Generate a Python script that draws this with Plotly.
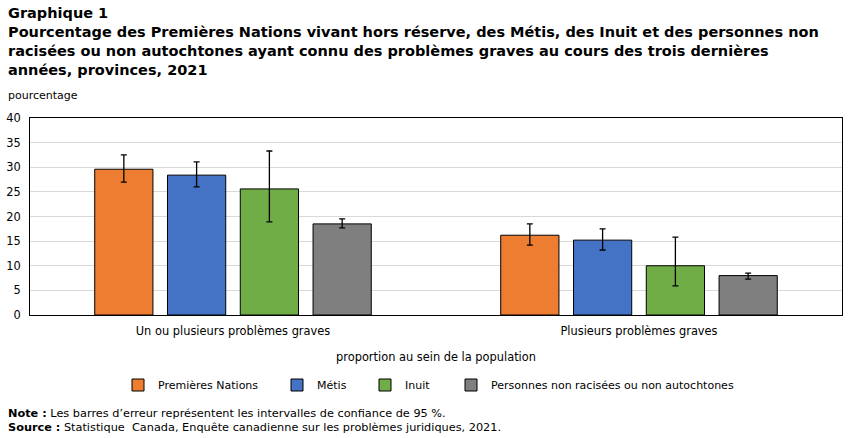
import plotly.graph_objects as go

categories = ["Un ou plusieurs problèmes graves", "Plusieurs problèmes graves"]
series_names = ["Premières Nations", "Métis", "Inuit", "Personnes non racisées ou non autochtones"]
colors = ["#ED7D31", "#4472C4", "#70AD47", "#7F7F7F"]
values = {
    "Premières Nations": [29.6, 16.2],
    "Métis": [28.4, 15.2],
    "Inuit": [25.6, 10.0],
    "Personnes non racisées ou non autochtones": [18.5, 8.0],
}
ci_low = {
    "Premières Nations": [27.0, 14.2],
    "Métis": [26.0, 13.2],
    "Inuit": [18.9, 5.9],
    "Personnes non racisées ou non autochtones": [17.7, 7.3],
}
ci_high = {
    "Premières Nations": [32.5, 18.5],
    "Métis": [31.1, 17.5],
    "Inuit": [33.3, 15.8],
    "Personnes non racisées ou non autochtones": [19.5, 8.5],
}
y_ticks = [0, 5, 10, 15, 20, 25, 30, 35, 40]

W, H = 850, 438
L, R, T, B = 30, 8, 118, 123
PW = W - L - R
PH = H - T - B

def px(x):
    return (x - L) / PW

def py(y):
    return (H - B - y) / PH

FONT = "Verdana, DejaVu Sans, sans-serif"

fig = go.Figure()
legend_text_x = [154, 313, 401, 487]
for i, name in enumerate(series_names):
    v = values[name]
    plus = [h - a for h, a in zip(ci_high[name], v)]
    minus = [a - l for a, l in zip(v, ci_low[name])]
    lg = "legend" if i == 0 else f"legend{i+1}"
    fig.add_trace(go.Bar(
        x=categories, y=v, name=name, legend=lg,
        marker=dict(color=colors[i], line=dict(color="#000000", width=1)),
        error_y=dict(type="data", array=plus, arrayminus=minus, visible=True,
                     color="#000000", thickness=1.3, width=3),
    ))

legend_common = dict(orientation="h", xref="container", yref="container",
                     xanchor="left", yanchor="middle",
                     font=dict(family=FONT, size=11, color="#000000"),
                     bgcolor="rgba(0,0,0,0)")
legends = {}
for i in range(4):
    key = "legend" if i == 0 else f"legend{i+1}"
    legends[key] = dict(x=(legend_text_x[i] - 36) / W, y=1 - 385 / H, **legend_common)

fig.update_layout(
    width=W, height=H,
    margin=dict(l=L, r=R, t=T, b=B, autoexpand=False),
    paper_bgcolor="white", plot_bgcolor="white",
    barmode="group", bargap=0.283, bargroupgap=0.2,
    showlegend=True,
    font=dict(family=FONT, size=11, color="#000000"),
    title=dict(
        text="Graphique 1<br>Pourcentage des Premières Nations vivant hors réserve, des Métis, des Inuit et des personnes non<br>racisées ou non autochtones ayant connu des problèmes graves au cours des trois dernières<br>années, provinces, 2021",
        xref="container", yref="container", x=8 / W, xanchor="left",
        y=1 - 18 / H, yanchor="top",
        font=dict(family=FONT, size=14.5, color="#000000", weight="bold"),
    ),
    xaxis=dict(
        showline=True, linecolor="#000000", linewidth=1, mirror=True,
        ticks="", showgrid=False, ticklabelstandoff=5,
        tickfont=dict(family=FONT, size=11.4, color="#000000"),
        title=dict(text="proportion au sein de la population", standoff=16,
                   font=dict(family=FONT, size=11.4, color="#000000")),
    ),
    yaxis=dict(
        range=[0, 40], tickvals=y_ticks, showline=True, linecolor="#000000",
        linewidth=1, mirror=True, ticks="", showgrid=True, gridcolor="#D9D9D9",
        gridwidth=1, zeroline=False, ticklabelstandoff=6,
        tickfont=dict(family=FONT, size=11.4, color="#000000"),
    ),
    annotations=[
        dict(text="pourcentage", xref="paper", yref="paper", x=px(6), y=py(95),
             xanchor="left", yanchor="middle", showarrow=False,
             font=dict(family=FONT, size=11, color="#000000")),
        dict(text="<b>Note :</b> Les barres d’erreur représentent les intervalles de confiance de 95 %.",
             xref="paper", yref="paper", x=px(6), y=py(413),
             xanchor="left", yanchor="middle", showarrow=False,
             font=dict(family=FONT, size=11.3, color="#000000")),
        dict(text="<b>Source :</b> Statistique  Canada, Enquête canadienne sur les problèmes juridiques, 2021.",
             xref="paper", yref="paper", x=px(6), y=py(427),
             xanchor="left", yanchor="middle", showarrow=False,
             font=dict(family=FONT, size=11.3, color="#000000")),
    ],
    **legends,
)

fig.write_html("out.html")
